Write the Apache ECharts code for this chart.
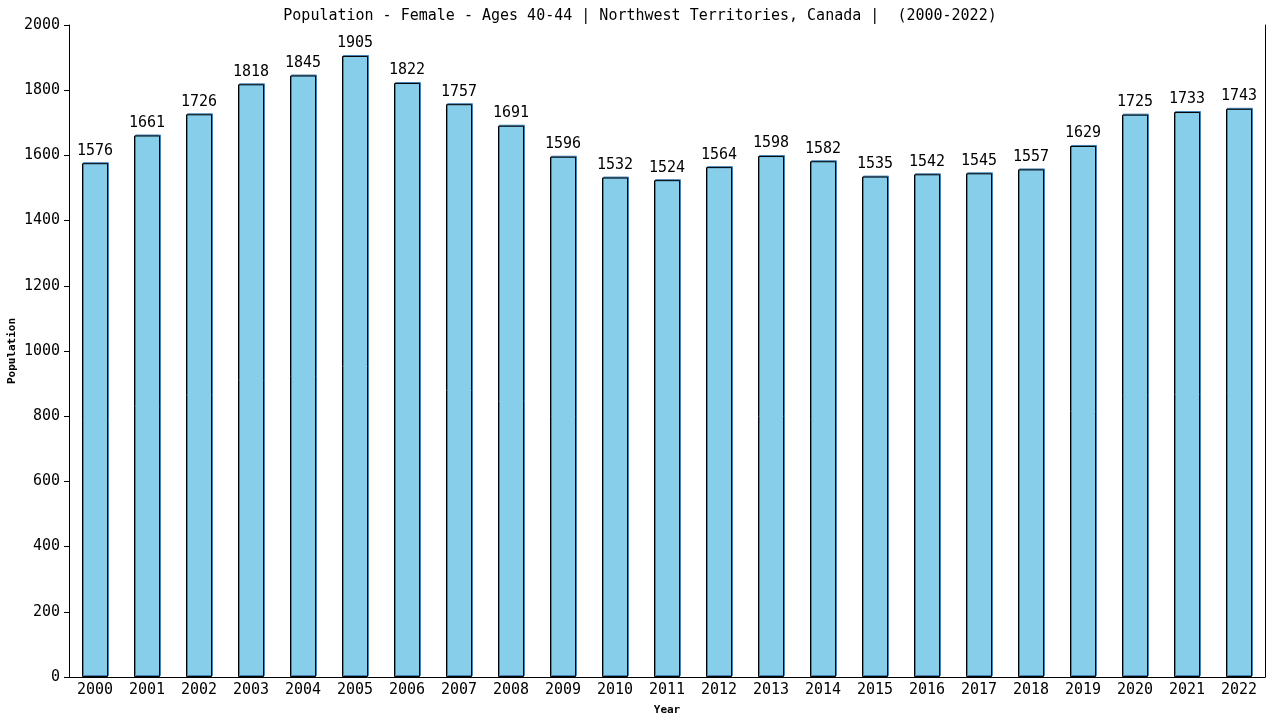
<!DOCTYPE html>
<html><head><meta charset="utf-8">
<script src="https://cdn.jsdelivr.net/npm/echarts@6/dist/echarts.min.js"></script>
<style>html,body{margin:0;padding:0;background:#fff}#c{width:1280px;height:720px}</style>
</head><body><div id="c"></div>
<script>
const years = ['2000','2001','2002','2003','2004','2005','2006','2007','2008','2009','2010','2011','2012','2013','2014','2015','2016','2017','2018','2019','2020','2021','2022'];
const population = [1576,1661,1726,1818,1845,1905,1822,1757,1691,1596,1532,1524,1564,1598,1582,1535,1542,1545,1557,1629,1725,1733,1743];
const titleText = 'Population - Female - Ages 40-44 | Northwest Territories, Canada |  (2000-2022)';
const FONT = '"DejaVu Sans Mono", monospace';
const chart = echarts.init(document.getElementById('c'), null, {renderer:'canvas'});
chart.setOption({
  animation:false,
  backgroundColor:'#fff',
  title:{text:titleText,left:'center',top:4,textStyle:{fontFamily:FONT,fontSize:15,fontWeight:'normal',color:'#000'}},
  grid:{left:69,right:15,top:25,bottom:43,containLabel:false,outerBoundsMode:'none',show:false},
  xAxis:{type:'category',data:years,name:'Year',nameLocation:'middle',nameGap:28,nameMoveOverlap:false,
    nameTextStyle:{fontFamily:FONT,fontSize:11,fontWeight:'bold',color:'#000'},
    axisLine:{lineStyle:{color:'#000',width:1}},axisTick:{show:false},
    axisLabel:{fontFamily:FONT,fontSize:15,color:'#000',margin:6}},
  yAxis:[{type:'value',min:0,max:2000,interval:200,name:'Population',nameLocation:'middle',nameGap:51,nameMoveOverlap:false,
    nameTextStyle:{fontFamily:FONT,fontSize:11,fontWeight:'bold',color:'#000'},
    axisLine:{show:true,lineStyle:{color:'#000',width:1}},axisTick:{show:true,length:5,lineStyle:{color:'#000'}},
    splitLine:{show:false},
    axisLabel:{fontFamily:FONT,fontSize:15,color:'#000',margin:9,formatter:v=>String(v)}},
   {type:'value',min:0,max:2000,interval:200,position:'right',
    axisLine:{show:true,lineStyle:{color:'#000',width:1}},axisTick:{show:false},axisLabel:{show:false},splitLine:{show:false}}],
  series:[{type:'bar',data:population,barWidth:'50%',
    itemStyle:{color:'#87ceeb',borderColor:'#000',borderWidth:1,shadowColor:'#4682b4',shadowBlur:0,shadowOffsetX:1,shadowOffsetY:-1},
    label:{show:true,position:'top',distance:5,fontFamily:FONT,fontSize:15,color:'#000'}}]
});
</script></body></html>
